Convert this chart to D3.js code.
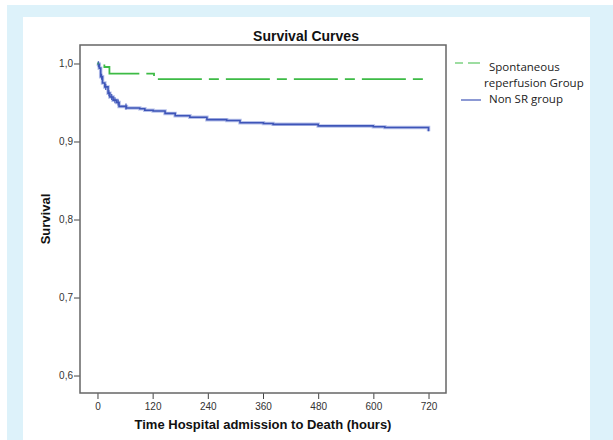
<!DOCTYPE html>
<html>
<head>
<meta charset="utf-8">
<script src="https://cdn.jsdelivr.net/npm/d3@7"></script>
<style>
  html, body { margin: 0; padding: 0; background: #fff; }
  svg { display: block; }
  .tick text { font-family: "Liberation Sans", Arial, sans-serif; font-size: 10px; fill: #333; }
</style>
</head>
<body>
<svg width="613" height="440"></svg>
<script>
// survival step points: [hours, survival]
const srTimes = [0, 15, 26, 123, 720];
const srSurv = [1.0, 0.9955, 0.987, 0.980, 0.980];

const nonSrTimes = [0, 2, 4, 7, 11, 16, 23, 27, 34, 42, 47, 63, 92, 103, 121, 147, 169, 201, 238, 281, 310, 361, 382, 480, 600, 625, 720];
const nonSrSurv = [1.0, 0.999, 0.994, 0.983, 0.975, 0.970, 0.962, 0.957, 0.953, 0.950, 0.945, 0.943, 0.942, 0.940, 0.939, 0.936, 0.933, 0.931, 0.928, 0.927, 0.924, 0.923, 0.922, 0.920, 0.919, 0.918, 0.913];
const nonSrCensored = [2, 9, 18, 25, 31, 38, 45, 62];

const xTicks = [0, 120, 240, 360, 480, 600, 720];
const yTicks = [0.6, 0.7, 0.8, 0.9, 1.0];

const svg = d3.select("svg");

// page frame
svg.append("rect").attr("x", 7).attr("y", 5).attr("width", 606).attr("height", 435).attr("fill", "#ddf2fa");
svg.append("rect").attr("x", 23).attr("y", 17).attr("width", 567).attr("height", 423).attr("fill", "#fff");

const plotL = 80, plotR = 446, plotT = 45, plotB = 393;
const x = d3.scaleLinear().domain([-38, 758]).range([plotL, plotR]);
const y = d3.scaleLinear().domain([0.5776, 1.0237]).range([plotB, plotT]);

const xAxis = svg.append("g")
  .attr("transform", `translate(0,${plotB})`)
  .call(d3.axisBottom(x).tickValues(xTicks).tickSize(6).tickPadding(4).tickFormat(d3.format("d")));
const yAxis = svg.append("g")
  .attr("transform", `translate(${plotL},0)`)
  .call(d3.axisLeft(y).tickValues(yTicks).tickSize(6).tickPadding(1).tickFormat(d => d3.format(".1f")(d).replace(".", ",")));
[xAxis, yAxis].forEach(a => {
  a.select(".domain").remove();
  a.selectAll(".tick line").attr("stroke", "#444");
});

svg.append("rect")
  .attr("x", plotL).attr("y", plotT)
  .attr("width", plotR - plotL).attr("height", plotB - plotT)
  .attr("fill", "none").attr("stroke", "#666").attr("stroke-width", 1.5);

const line = d3.line().curve(d3.curveStepAfter).x(d => x(d[0])).y(d => y(d[1]));
const srData = srTimes.map((t, i) => [t, srSurv[i]]);
const nonSrData = nonSrTimes.map((t, i) => [t, nonSrSurv[i]]);

// non SR group, with soft halo
svg.append("path").datum(nonSrData).attr("d", line)
  .attr("fill", "none").attr("stroke", "#b7c1ea").attr("stroke-width", 3.5);
svg.append("path").datum(nonSrData).attr("d", line)
  .attr("fill", "none").attr("stroke", "#3e55b8").attr("stroke-width", 1.6);

const survAt = t => nonSrSurv[d3.bisectRight(nonSrTimes, t) - 1];
svg.append("g").selectAll("line").data(nonSrCensored).join("line")
  .attr("x1", d => x(d)).attr("x2", d => x(d))
  .attr("y1", d => y(survAt(d)) - 3).attr("y2", d => y(survAt(d)) + 3)
  .attr("stroke", "#3e55b8").attr("stroke-width", 1.2);

// spontaneous reperfusion group
svg.append("path").datum(srData).attr("d", line)
  .attr("fill", "none").attr("stroke", "#3dbb45").attr("stroke-width", 1.8)
  .attr("stroke-dasharray", "44,7,10,7").attr("stroke-dashoffset", -8);

// titles
const bold = "bold 13px 'Liberation Sans', Arial, sans-serif";
svg.append("text").attr("x", 306).attr("y", 41).attr("text-anchor", "middle")
  .style("font", "bold 14px 'Liberation Sans', Arial, sans-serif").attr("fill", "#111")
  .text("Survival Curves");
svg.append("text").attr("x", 263).attr("y", 429).attr("text-anchor", "middle")
  .style("font", bold).attr("fill", "#111")
  .text("Time Hospital admission to Death (hours)");
svg.append("text").attr("transform", "translate(50,219) rotate(-90)").attr("text-anchor", "middle")
  .style("font", bold).attr("fill", "#111")
  .text("Survival");

// legend
const lg = svg.append("g").style("font", "11.5px 'Open Sans', sans-serif").attr("fill", "#222");
lg.append("line").attr("x1", 455).attr("x2", 480).attr("y1", 63).attr("y2", 63)
  .attr("stroke", "#3dbb45").attr("stroke-width", 1.2).attr("stroke-dasharray", "8,5,12");
lg.append("text").attr("x", 489).attr("y", 71).text("Spontaneous");
lg.append("text").attr("x", 484).attr("y", 87).text("reperfusion Group");
lg.append("line").attr("x1", 461).attr("x2", 481).attr("y1", 100).attr("y2", 100)
  .attr("stroke", "#3e55b8").attr("stroke-width", 1.2);
lg.append("text").attr("x", 489).attr("y", 103).text("Non SR group");
</script>
</body>
</html>
